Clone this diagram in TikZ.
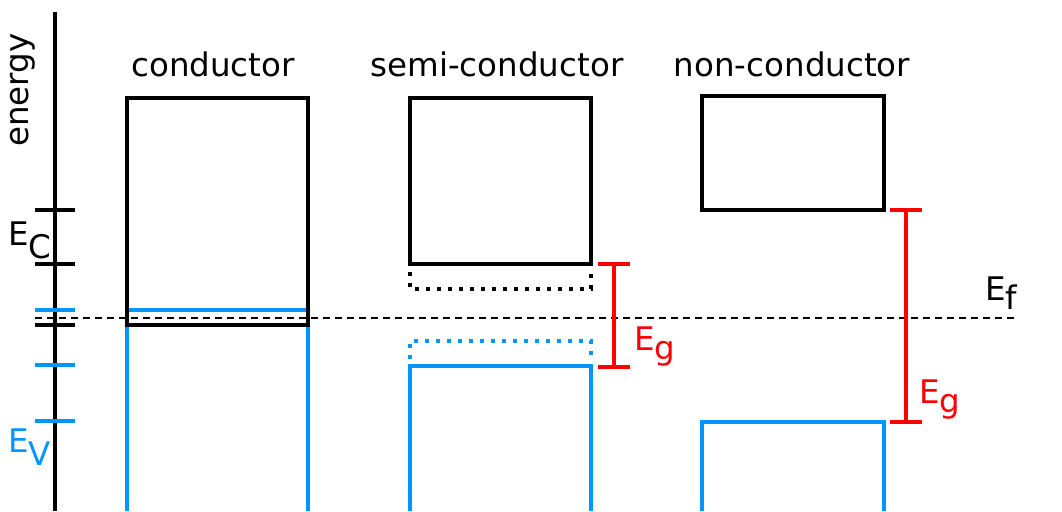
\documentclass[tikz,border=0pt]{standalone}
\usepackage{fontspec}
\setmainfont{DejaVu Sans}
\definecolor{bandblue}{RGB}{0,150,255}
\definecolor{gapred}{RGB}{255,0,0}
\begin{document}
\begin{tikzpicture}[x=1pt,y=-1pt,
  band/.style={line width=3.4pt},
  tick/.style={line width=3.6pt},
  lbl/.style={font=\fontsize{32.5}{38}\selectfont, inner sep=0pt},
  dotband/.style={line width=3.6pt, dash pattern=on 3.6pt off 7.4pt},
  gapbar/.style={line width=3.6pt, gapred}]
\useasboundingbox (0,0) rectangle (1062,511);
\fill[white] (0,0) rectangle (1062,511);

% energy axis
\draw[line width=3.6pt] (55,12) -- (55,511);
\node[lbl, rotate=90] (energy) at (23,90) {energy};

% ticks on the axis
\foreach \yy in {210,264,325} \draw[tick] (35,\yy) -- (75,\yy);
\foreach \yy in {310,365,421} \draw[tick, bandblue] (35,\yy) -- (75,\yy);
\node[lbl, anchor=base west] (ec) at (8,245) {E\raisebox{-0.42em}{C}};
\node[lbl, anchor=base west, bandblue] (ev) at (8,452) {E\raisebox{-0.42em}{V}};

% Fermi level
\draw[line width=2pt, dash pattern=on 7pt off 5pt] (35,318) -- (1015,318);
\node[lbl, anchor=base west] (ef) at (985,300) {E\raisebox{-0.3em}{f}};

% column titles
\node[lbl, anchor=base] (t1) at (213,77) {conductor};
\node[lbl, anchor=base] (t2) at (497,77) {semi-conductor};
\node[lbl, anchor=base] (t3) at (792,77) {non-conductor};

% conductor: overlapping bands
\draw[band, bandblue] (127,511) -- (127,310) -- (308,310) -- (308,511);
\draw[band] (127,98) rectangle (308,325);

% semi-conductor
\draw[band] (410,98) rectangle (591,264);
\draw[dotband] (410,272) -- (410,289) -- (591,289) -- (591,272);
\draw[band, bandblue] (410,511) -- (410,366) -- (591,366) -- (591,511);
\draw[dotband, bandblue] (410,359) -- (410,341) -- (591,341) -- (591,359);
\draw[gapbar] (614,264) -- (614,367);
\draw[gapbar] (598,264) -- (630,264);
\draw[gapbar] (598,367) -- (630,367);
\node[lbl, anchor=base west, gapred] (eg1) at (634,350) {E\raisebox{-0.3em}{g}};

% non-conductor
\draw[band] (702,96) rectangle (884,210);
\draw[band, bandblue] (702,511) -- (702,422) -- (884,422) -- (884,511);
\draw[gapbar] (906,210) -- (906,422);
\draw[gapbar] (890,210) -- (922,210);
\draw[gapbar] (890,422) -- (922,422);
\node[lbl, anchor=base west, gapred] (eg2) at (919,403) {E\raisebox{-0.3em}{g}};
\end{tikzpicture}
\end{document}
